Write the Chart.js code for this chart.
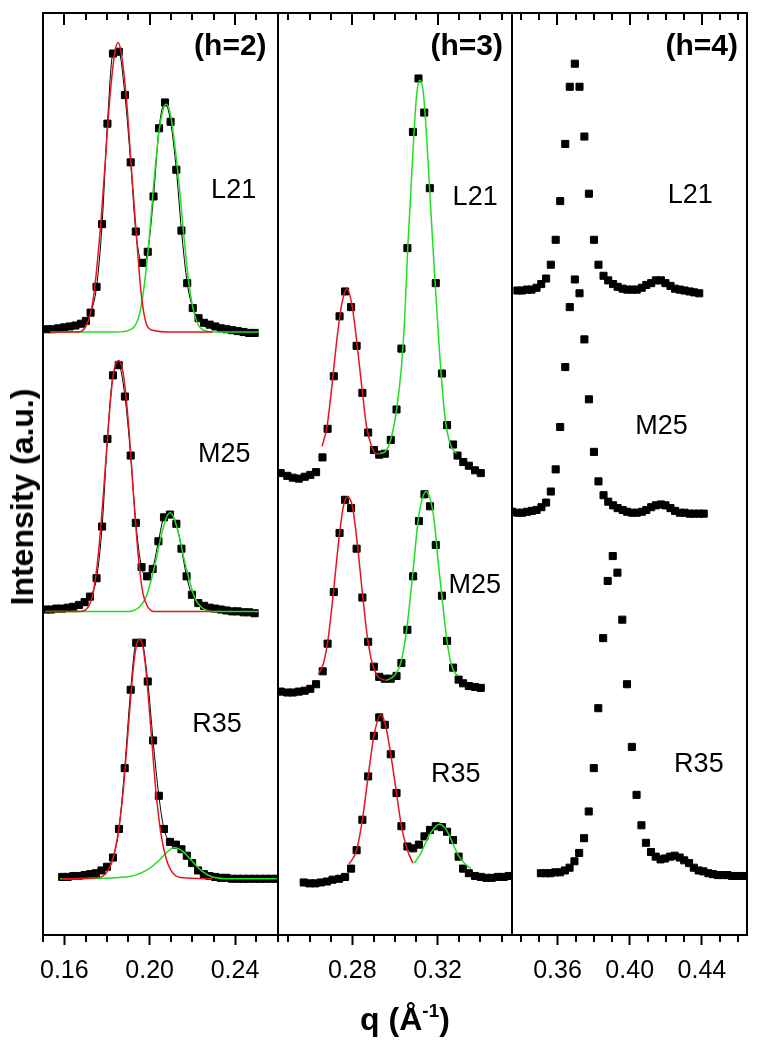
<!DOCTYPE html>
<html>
<head>
<meta charset="utf-8">
<script src="https://cdn.jsdelivr.net/npm/chart.js@4.4.1/dist/chart.umd.min.js"></script>
<style>
    html, body { margin: 0; padding: 0; background: #fff; }
    #wrap { position: relative; width: 764px; height: 1050px; }
    #chart { position: absolute; left: 0; top: 0; }
    .axis-title {
        position: absolute;
        font-family: "Liberation Sans", Arial, sans-serif;
        font-weight: bold;
        font-size: 32px;
        line-height: 1;
        color: #000;
        white-space: nowrap;
    }
    .axis-title sup { font-size: 19px; vertical-align: 13px; line-height: 0; }
    #ytitle { left: 22px; top: 497px; transform: translate(-50%, -50%) rotate(-90deg); }
    #xtitle { left: 405px; top: 1019px; transform: translate(-50%, -50%); }
</style>
</head>
<body>
<div id="wrap">
    <canvas id="chart" width="764" height="1050"></canvas>
    <div class="axis-title" id="ytitle">Intensity (a.u.)</div>
    <div class="axis-title" id="xtitle">q (Å<sup>-1</sup>)</div>
</div>
<script>
// x ranges and ticks of the three panels
const xRange1 = [0.15, 0.26];
const xRange2 = [0.245, 0.355];
const xRange3 = [0.335, 0.465];
const ticksMajor1 = [0.16, 0.20, 0.24];
const ticksMajor2 = [0.28, 0.32];
const ticksMajor3 = [0.36, 0.40, 0.44];
const ticksMinor1 = [0.15, 0.17, 0.18, 0.19, 0.21, 0.22, 0.23, 0.25, 0.26];
const ticksMinor2 = [0.25, 0.26, 0.27, 0.29, 0.30, 0.31, 0.33, 0.34, 0.35];
const ticksMinor3 = [0.34, 0.35, 0.37, 0.38, 0.39, 0.41, 0.42, 0.43, 0.45, 0.46];

// (h=2) measured points [q, intensity] and fitted peaks
const h2L21 = [[0.1520,6.57],[0.1546,6.57],[0.1572,6.58],[0.1599,6.59],[0.1625,6.60],[0.1652,6.61],[0.1678,6.63],[0.1701,6.66],[0.1723,6.75],[0.1751,7.03],[0.1777,7.71],[0.1802,8.80],[0.1828,9.56],[0.1855,9.58],[0.1884,9.11],[0.1911,8.38],[0.1935,7.63],[0.1965,7.29],[0.1991,7.41],[0.2018,8.01],[0.2044,8.75],[0.2072,9.03],[0.2098,8.82],[0.2125,8.30],[0.2149,7.64],[0.2176,7.07],[0.2202,6.80],[0.2229,6.69],[0.2255,6.64],[0.2281,6.62],[0.2308,6.60],[0.2334,6.58],[0.2360,6.57],[0.2387,6.56],[0.2413,6.55],[0.2440,6.54],[0.2466,6.53],[0.2492,6.53]];
const h2L21Red = [[0.1534,6.54],[0.1658,6.54],[0.1705,6.62],[0.1735,6.89],[0.1767,7.61],[0.1790,8.33],[0.1813,9.07],[0.1836,9.56],[0.1852,9.68],[0.1867,9.56],[0.1891,9.07],[0.1914,8.33],[0.1937,7.61],[0.1960,6.96],[0.1984,6.63],[0.2014,6.56],[0.2107,6.54],[0.2294,6.54]];
const h2L21Green = [[0.1534,6.54],[0.1844,6.54],[0.1906,6.56],[0.1953,6.74],[0.1976,7.07],[0.2000,7.61],[0.2018,8.12],[0.2043,8.70],[0.2061,8.93],[0.2077,9.01],[0.2095,8.93],[0.2115,8.62],[0.2139,8.12],[0.2162,7.54],[0.2186,7.03],[0.2209,6.74],[0.2240,6.58],[0.2294,6.54],[0.2511,6.54]];

const h2M25 = [[0.1511,3.53],[0.1537,3.53],[0.1563,3.54],[0.1590,3.54],[0.1616,3.55],[0.1642,3.56],[0.1669,3.58],[0.1695,3.61],[0.1720,3.67],[0.1751,3.87],[0.1777,4.43],[0.1802,5.38],[0.1828,6.07],[0.1855,6.18],[0.1884,5.84],[0.1911,5.20],[0.1935,4.47],[0.1962,3.99],[0.1988,3.89],[0.2014,3.97],[0.2041,4.27],[0.2067,4.53],[0.2095,4.56],[0.2125,4.46],[0.2149,4.19],[0.2173,3.89],[0.2198,3.69],[0.2228,3.60],[0.2255,3.57],[0.2281,3.55],[0.2307,3.54],[0.2334,3.53],[0.2360,3.52],[0.2387,3.51],[0.2413,3.51],[0.2440,3.50],[0.2466,3.50],[0.2492,3.49]];
const h2M25Red = [[0.1511,3.51],[0.1673,3.51],[0.1712,3.56],[0.1735,3.71],[0.1758,4.10],[0.1782,4.75],[0.1805,5.48],[0.1828,6.06],[0.1855,6.23],[0.1878,6.06],[0.1903,5.48],[0.1925,4.75],[0.1947,4.10],[0.1968,3.71],[0.1991,3.56],[0.2022,3.51],[0.2107,3.51],[0.2294,3.51]];
const h2M25Green = [[0.1511,3.51],[0.1906,3.51],[0.1953,3.56],[0.1984,3.67],[0.2007,3.85],[0.2030,4.07],[0.2053,4.32],[0.2077,4.52],[0.2095,4.58],[0.2114,4.52],[0.2139,4.32],[0.2162,4.07],[0.2186,3.85],[0.2209,3.67],[0.2240,3.56],[0.2294,3.51],[0.2511,3.51]];

const h2R35 = [[0.1590,0.63],[0.1616,0.63],[0.1642,0.64],[0.1669,0.64],[0.1695,0.65],[0.1721,0.66],[0.1748,0.67],[0.1774,0.70],[0.1800,0.74],[0.1828,0.84],[0.1856,1.15],[0.1883,1.81],[0.1911,2.66],[0.1937,3.17],[0.1963,3.17],[0.1991,2.75],[0.2016,2.11],[0.2043,1.51],[0.2067,1.15],[0.2095,1.01],[0.2123,0.98],[0.2149,0.93],[0.2174,0.86],[0.2199,0.78],[0.2227,0.70],[0.2254,0.66],[0.2280,0.64],[0.2307,0.63],[0.2333,0.62],[0.2360,0.62],[0.2386,0.61],[0.2413,0.61],[0.2439,0.61],[0.2465,0.61],[0.2492,0.61],[0.2518,0.61],[0.2545,0.61],[0.2571,0.61],[0.2597,0.61]];
const h2R35Red = [[0.1590,0.61],[0.1751,0.62],[0.1782,0.64],[0.1805,0.70],[0.1828,0.83],[0.1852,1.10],[0.1875,1.54],[0.1898,2.19],[0.1921,2.84],[0.1937,3.13],[0.1953,3.21],[0.1968,3.13],[0.1984,2.84],[0.2007,2.19],[0.2030,1.54],[0.2053,1.10],[0.2077,0.83],[0.2100,0.70],[0.2123,0.64],[0.2154,0.62],[0.2294,0.61]];
const h2R35Green = [[0.1580,0.61],[0.1891,0.63],[0.1984,0.70],[0.2045,0.81],[0.2077,0.89],[0.2115,0.95],[0.2154,0.91],[0.2199,0.80],[0.2247,0.69],[0.2294,0.63],[0.2387,0.61],[0.2597,0.61]];

// (h=3)
const h3L21 = [[0.2464,5.01],[0.2495,4.98],[0.2521,4.96],[0.2549,4.95],[0.2577,4.97],[0.2603,4.99],[0.2630,5.02],[0.2660,5.18],[0.2684,5.49],[0.2713,6.06],[0.2740,6.71],[0.2766,6.98],[0.2794,6.81],[0.2820,6.39],[0.2847,5.88],[0.2874,5.45],[0.2901,5.26],[0.2926,5.21],[0.2952,5.22],[0.2980,5.37],[0.3007,5.70],[0.3030,6.36],[0.3058,7.45],[0.3084,8.71],[0.3110,9.29],[0.3137,8.92],[0.3163,8.10],[0.3191,7.07],[0.3220,6.09],[0.3244,5.53],[0.3272,5.32],[0.3293,5.20],[0.3320,5.13],[0.3346,5.09],[0.3375,5.04],[0.3402,5.01]];
const h3L21Red = [[0.2658,5.30],[0.2681,5.51],[0.2704,5.95],[0.2727,6.45],[0.2751,6.85],[0.2774,7.01],[0.2797,6.85],[0.2820,6.45],[0.2844,5.95],[0.2867,5.51],[0.2890,5.30],[0.2913,5.22],[0.2929,5.22]];
const h3L21Green = [[0.2929,5.22],[0.2960,5.26],[0.2983,5.40],[0.3007,5.69],[0.3030,6.16],[0.3045,6.67],[0.3060,7.47],[0.3072,7.97],[0.3087,8.62],[0.3102,9.13],[0.3118,9.27],[0.3133,9.13],[0.3149,8.62],[0.3165,7.97],[0.3188,7.07],[0.3211,6.24],[0.3234,5.62],[0.3258,5.33],[0.3288,5.22]];

const h3M25 = [[0.2464,2.64],[0.2495,2.63],[0.2521,2.63],[0.2549,2.64],[0.2577,2.65],[0.2603,2.67],[0.2630,2.72],[0.2661,2.86],[0.2684,3.16],[0.2713,3.72],[0.2740,4.36],[0.2766,4.72],[0.2794,4.63],[0.2820,4.19],[0.2847,3.66],[0.2874,3.18],[0.2901,2.91],[0.2926,2.80],[0.2952,2.78],[0.2980,2.78],[0.3007,2.81],[0.3030,2.95],[0.3058,3.31],[0.3085,3.89],[0.3112,4.49],[0.3138,4.78],[0.3164,4.65],[0.3191,4.23],[0.3220,3.68],[0.3244,3.19],[0.3272,2.90],[0.3298,2.77],[0.3319,2.73],[0.3346,2.70],[0.3375,2.69],[0.3402,2.68]];
const h3M25Red = [[0.2642,2.83],[0.2665,2.95],[0.2688,3.24],[0.2711,3.71],[0.2735,4.25],[0.2758,4.65],[0.2778,4.75],[0.2800,4.65],[0.2823,4.25],[0.2847,3.71],[0.2870,3.24],[0.2893,2.95],[0.2921,2.80],[0.2960,2.76]];
const h3M25Green = [[0.2960,2.76],[0.2999,2.82],[0.3027,2.95],[0.3050,3.24],[0.3069,3.60],[0.3088,4.03],[0.3107,4.47],[0.3126,4.72],[0.3146,4.81],[0.3166,4.72],[0.3185,4.47],[0.3203,4.03],[0.3220,3.67],[0.3239,3.27],[0.3259,2.98],[0.3285,2.83],[0.3296,2.82]];

const h3R35 = [[0.2572,0.57],[0.2599,0.56],[0.2627,0.56],[0.2653,0.57],[0.2681,0.58],[0.2707,0.60],[0.2738,0.61],[0.2766,0.63],[0.2794,0.72],[0.2820,0.92],[0.2847,1.25],[0.2874,1.72],[0.2901,2.16],[0.2926,2.36],[0.2952,2.28],[0.2980,1.96],[0.3007,1.54],[0.3030,1.18],[0.3058,0.96],[0.3085,0.94],[0.3112,0.98],[0.3138,1.07],[0.3164,1.14],[0.3191,1.18],[0.3220,1.17],[0.3244,1.12],[0.3272,1.03],[0.3298,0.85],[0.3319,0.72],[0.3346,0.67],[0.3375,0.64],[0.3402,0.63],[0.3428,0.62],[0.3454,0.62],[0.3482,0.63],[0.3510,0.63],[0.3533,0.64]];
const h3R35Red = [[0.2785,0.77],[0.2820,0.92],[0.2847,1.25],[0.2874,1.72],[0.2901,2.16],[0.2933,2.39],[0.2955,2.28],[0.2980,1.96],[0.3007,1.54],[0.3030,1.18],[0.3058,0.92],[0.3084,0.78]];
const h3R35Green = [[0.3091,0.78],[0.3122,0.89],[0.3153,1.05],[0.3184,1.16],[0.3208,1.20],[0.3231,1.17],[0.3254,1.08],[0.3277,0.96],[0.3301,0.85],[0.3324,0.78],[0.3355,0.72]];

// (h=4) - no fits
const h4L21 = [[0.3378,6.99],[0.3404,6.99],[0.3431,7.00],[0.3456,7.00],[0.3484,7.02],[0.3510,7.06],[0.3537,7.12],[0.3563,7.27],[0.3590,7.54],[0.3615,7.96],[0.3643,8.58],[0.3668,9.20],[0.3696,9.45],[0.3722,9.20],[0.3749,8.66],[0.3774,8.04],[0.3802,7.54],[0.3827,7.27],[0.3855,7.15],[0.3881,7.10],[0.3908,7.06],[0.3933,7.03],[0.3961,7.01],[0.3986,7.00],[0.4014,7.00],[0.4039,7.00],[0.4067,7.02],[0.4092,7.05],[0.4119,7.07],[0.4145,7.10],[0.4173,7.10],[0.4198,7.07],[0.4226,7.04],[0.4251,7.01],[0.4278,7.00],[0.4304,6.99],[0.4332,6.98],[0.4357,6.97],[0.4385,6.96]];
const h4M25 = [[0.3350,4.59],[0.3378,4.58],[0.3405,4.58],[0.3431,4.59],[0.3458,4.60],[0.3484,4.61],[0.3511,4.64],[0.3537,4.69],[0.3563,4.81],[0.3590,5.05],[0.3615,5.51],[0.3643,6.16],[0.3668,6.81],[0.3696,7.11],[0.3722,6.96],[0.3749,6.46],[0.3774,5.81],[0.3802,5.24],[0.3827,4.92],[0.3855,4.77],[0.3881,4.70],[0.3908,4.66],[0.3933,4.63],[0.3961,4.61],[0.3986,4.59],[0.4014,4.58],[0.4039,4.58],[0.4067,4.59],[0.4092,4.61],[0.4119,4.64],[0.4145,4.66],[0.4173,4.67],[0.4198,4.66],[0.4226,4.63],[0.4251,4.60],[0.4278,4.58],[0.4304,4.58],[0.4332,4.57],[0.4357,4.57],[0.4385,4.57],[0.4410,4.57]];
const h4R35 = [[0.3508,0.67],[0.3535,0.67],[0.3561,0.67],[0.3588,0.68],[0.3614,0.68],[0.3641,0.70],[0.3667,0.73],[0.3694,0.80],[0.3720,0.89],[0.3747,1.05],[0.3773,1.34],[0.3801,1.81],[0.3826,2.46],[0.3853,3.22],[0.3878,3.84],[0.3906,4.11],[0.3932,3.93],[0.3959,3.42],[0.3985,2.72],[0.4012,2.04],[0.4038,1.52],[0.4065,1.19],[0.4090,1.00],[0.4118,0.90],[0.4144,0.85],[0.4171,0.82],[0.4196,0.83],[0.4224,0.85],[0.4249,0.86],[0.4277,0.84],[0.4302,0.81],[0.4329,0.78],[0.4355,0.73],[0.4382,0.70],[0.4408,0.69],[0.4436,0.67],[0.4461,0.66],[0.4488,0.65],[0.4514,0.65],[0.4542,0.65],[0.4567,0.64],[0.4595,0.64],[0.4620,0.64],[0.4647,0.64]];

const FONT = '"Liberation Sans", Arial, sans-serif';
const RED = '#e4151c';
const GREEN = '#1ee01e';

// panel captions, placed in data units of each panel
const panelNotes = [
    { axis: 'x1', text: '(h=2)', q: 0.2548, v: 9.54, align: 'right', bold: true },
    { axis: 'x1', text: 'L21', q: 0.2288, v: 7.99 },
    { axis: 'x1', text: 'M25', q: 0.2227, v: 5.13 },
    { axis: 'x1', text: 'R35', q: 0.2199, v: 2.20 },
    { axis: 'x2', text: '(h=3)', q: 0.3506, v: 9.54, align: 'right', bold: true },
    { axis: 'x2', text: 'L21', q: 0.3270, v: 7.92 },
    { axis: 'x2', text: 'M25', q: 0.3251, v: 3.71 },
    { axis: 'x2', text: 'R35', q: 0.3169, v: 1.66 },
    { axis: 'x3', text: '(h=4)', q: 0.4600, v: 9.54, align: 'right', bold: true },
    { axis: 'x3', text: 'L21', q: 0.4211, v: 7.94 },
    { axis: 'x3', text: 'M25', q: 0.4031, v: 5.43 },
    { axis: 'x3', text: 'R35', q: 0.4246, v: 1.77 }
];

const panelTicks = [
    { axis: 'x1', major: ticksMajor1, minor: ticksMinor1 },
    { axis: 'x2', major: ticksMajor2, minor: ticksMinor2 },
    { axis: 'x3', major: ticksMajor3, minor: ticksMinor3 }
];

function pts(arr) {
    return arr.map(([x, y]) => ({ x, y }));
}

function marks(arr, axis, joined) {
    return {
        data: pts(arr),
        xAxisID: axis,
        pointStyle: 'rect',
        pointRadius: 5,
        pointBorderWidth: 1,
        backgroundColor: '#000',
        borderColor: '#000',
        showLine: joined,
        borderWidth: 1,
        cubicInterpolationMode: 'monotone',
        order: 2
    };
}

function fit(arr, axis, color) {
    return {
        data: pts(arr),
        xAxisID: axis,
        showLine: true,
        pointRadius: 0,
        borderColor: color,
        borderWidth: 1.5,
        cubicInterpolationMode: 'monotone',
        order: 1
    };
}

function xAxis(range, major) {
    return {
        type: 'linear',
        position: 'bottom',
        stack: 'q',
        stackWeight: 1,
        min: range[0],
        max: range[1],
        afterBuildTicks: (s) => { s.ticks = major.map(v => ({ value: v })); },
        afterFit: (s) => { s.height = 60; },
        ticks: {
            color: '#000',
            font: { family: FONT, size: 25 },
            padding: 11,
            maxRotation: 0,
            autoSkip: false,
            callback: (v) => v.toFixed(2)
        },
        grid: {
            display: true,
            drawOnChartArea: false,
            drawTicks: true,
            tickLength: 10,
            tickWidth: 2,
            tickColor: '#000',
            color: '#000'
        },
        border: { display: true, color: '#000', width: 2 }
    };
}

// frame, separators, inner ticks and captions
const panelFrame = {
    id: 'panelFrame',
    afterDraw(chart) {
        const ctx = chart.ctx;
        const { top, bottom, left, right } = chart.chartArea;
        const yScale = chart.scales.y;
        const t = Math.round(top), b = Math.round(bottom);
        ctx.save();
        ctx.strokeStyle = '#000';
        ctx.lineWidth = 2;
        ctx.lineCap = 'butt';
        ctx.beginPath();
        ctx.moveTo(Math.round(left) - 1, t);
        ctx.lineTo(Math.round(right) + 1, t);
        panelTicks.forEach(p => {
            const s = chart.scales[p.axis];
            const l = Math.round(s.left), r = Math.round(s.right);
            ctx.moveTo(l, t - 1);
            ctx.lineTo(l, b + 1);
            ctx.moveTo(r, t - 1);
            ctx.lineTo(r, b + 1);
            p.major.forEach(v => {
                const x = Math.round(s.getPixelForValue(v));
                ctx.moveTo(x, t);
                ctx.lineTo(x, t + 12);
            });
            p.minor.forEach(v => {
                const x = Math.round(s.getPixelForValue(v));
                ctx.moveTo(x, t);
                ctx.lineTo(x, t + 7);
                ctx.moveTo(x, b);
                ctx.lineTo(x, b + 7);
            });
        });
        ctx.stroke();

        ctx.fillStyle = '#000';
        ctx.textBaseline = 'alphabetic';
        panelNotes.forEach(n => {
            const s = chart.scales[n.axis];
            ctx.font = n.bold ? `bold 30px ${FONT}` : `27px ${FONT}`;
            ctx.textAlign = n.align || 'left';
            ctx.fillText(n.text, s.getPixelForValue(n.q), yScale.getPixelForValue(n.v));
        });
        ctx.restore();
    }
};

const datasets = [
    fit(h2L21Red, 'x1', RED), fit(h2L21Green, 'x1', GREEN),
    fit(h2M25Red, 'x1', RED), fit(h2M25Green, 'x1', GREEN),
    fit(h2R35Red, 'x1', RED), fit(h2R35Green, 'x1', GREEN),
    fit(h3L21Red, 'x2', RED), fit(h3L21Green, 'x2', GREEN),
    fit(h3M25Red, 'x2', RED), fit(h3M25Green, 'x2', GREEN),
    fit(h3R35Red, 'x2', RED), fit(h3R35Green, 'x2', GREEN),
    marks(h2L21, 'x1', true), marks(h2M25, 'x1', true), marks(h2R35, 'x1', true),
    marks(h3L21, 'x2', false), marks(h3M25, 'x2', false), marks(h3R35, 'x2', false),
    marks(h4L21, 'x3', false), marks(h4M25, 'x3', false), marks(h4R35, 'x3', false)
];

new Chart(document.getElementById('chart').getContext('2d'), {
    type: 'scatter',
    data: { datasets },
    options: {
        responsive: false,
        animation: false,
        events: [],
        layout: { padding: { left: 43, right: 13, top: 13, bottom: 55 } },
        scales: {
            x1: xAxis(xRange1, ticksMajor1),
            x2: xAxis(xRange2, ticksMajor2),
            x3: xAxis(xRange3, ticksMajor3),
            y: { display: false, min: 0, max: 10 }
        },
        plugins: {
            legend: { display: false },
            tooltip: { enabled: false }
        }
    },
    plugins: [panelFrame]
});
</script>
</body>
</html>
